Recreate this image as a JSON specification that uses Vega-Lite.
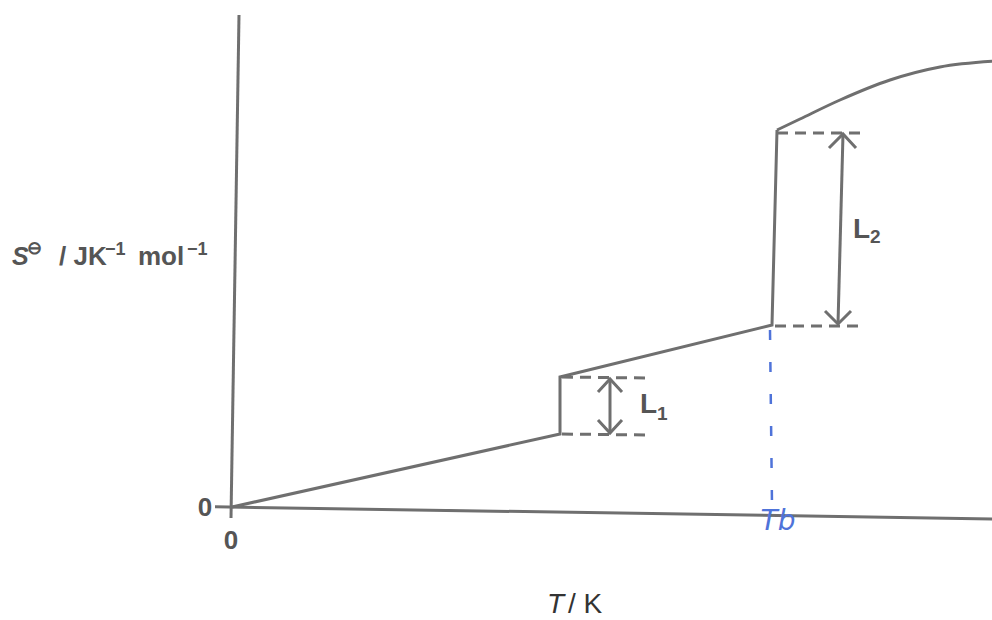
{
  "$schema": "https://vega.github.io/schema/vega-lite/v6.json",
  "width": 992,
  "height": 620,
  "padding": 0,
  "autosize": {"type": "none"},
  "background": "white",
  "config": {"view": {"stroke": null}},
  "datasets": {
    "solid": [
      {"id": "yaxis", "i": 0, "T": 7, "S": 492},
      {"id": "yaxis", "i": 1, "T": -1, "S": -11},
      {"id": "xaxis", "i": 0, "T": -17, "S": 0.2},
      {"id": "xaxis", "i": 1, "T": 765, "S": -12},
      {"id": "main", "i": 0, "T": 0, "S": 0},
      {"id": "main", "i": 1, "T": 328, "S": 73},
      {"id": "main", "i": 2, "T": 328, "S": 130},
      {"id": "main", "i": 3, "T": 540, "S": 182},
      {"id": "main", "i": 4, "T": 545, "S": 377},
      {"id": "l1shaft", "i": 0, "T": 378, "S": 128},
      {"id": "l1shaft", "i": 1, "T": 378, "S": 74},
      {"id": "l1top", "i": 0, "T": 366, "S": 115},
      {"id": "l1top", "i": 1, "T": 378, "S": 128},
      {"id": "l1top", "i": 2, "T": 390, "S": 115},
      {"id": "l1bot", "i": 0, "T": 366, "S": 87},
      {"id": "l1bot", "i": 1, "T": 378, "S": 74},
      {"id": "l1bot", "i": 2, "T": 390, "S": 87},
      {"id": "l2shaft", "i": 0, "T": 611, "S": 373},
      {"id": "l2shaft", "i": 1, "T": 606, "S": 183},
      {"id": "l2top", "i": 0, "T": 597, "S": 359},
      {"id": "l2top", "i": 1, "T": 611, "S": 373},
      {"id": "l2top", "i": 2, "T": 624, "S": 359},
      {"id": "l2bot", "i": 0, "T": 593, "S": 196},
      {"id": "l2bot", "i": 1, "T": 606, "S": 183},
      {"id": "l2bot", "i": 2, "T": 619, "S": 196}
    ],
    "curve": [
      {"T": 545, "S": 377},
      {"T": 568, "S": 388},
      {"T": 608, "S": 407},
      {"T": 658, "S": 427},
      {"T": 708, "S": 440},
      {"T": 765, "S": 446}
    ],
    "dashed": [
      {"id": "d1", "i": 0, "T": 330, "S": 130},
      {"id": "d1", "i": 1, "T": 413, "S": 129},
      {"id": "d2", "i": 0, "T": 330, "S": 73},
      {"id": "d2", "i": 1, "T": 413, "S": 72},
      {"id": "d3", "i": 0, "T": 545, "S": 374},
      {"id": "d3", "i": 1, "T": 631, "S": 374},
      {"id": "d4", "i": 0, "T": 543, "S": 181},
      {"id": "d4", "i": 1, "T": 626, "S": 181}
    ],
    "blue": [
      {"i": 0, "T": 538, "S": 177},
      {"i": 1, "T": 540, "S": 2}
    ]
  },
  "encoding": {
    "x": {"field": "T", "type": "quantitative", "scale": {"domain": [-232, 760], "nice": false, "zero": false}, "axis": null},
    "y": {"field": "S", "type": "quantitative", "scale": {"domain": [-113, 507], "nice": false, "zero": false}, "axis": null}
  },
  "layer": [
    {
      "data": {"name": "solid"},
      "mark": {"type": "line", "color": "#6f6f6f", "strokeWidth": 3},
      "encoding": {"detail": {"field": "id"}, "order": {"field": "i"}}
    },
    {
      "data": {"name": "curve"},
      "mark": {"type": "line", "color": "#6f6f6f", "strokeWidth": 3, "interpolate": "monotone"},
      "encoding": {}
    },
    {
      "data": {"name": "dashed"},
      "mark": {"type": "line", "color": "#6f6f6f", "strokeWidth": 3, "strokeDash": [11, 7]},
      "encoding": {"detail": {"field": "id"}, "order": {"field": "i"}}
    },
    {
      "data": {"name": "blue"},
      "mark": {"type": "line", "color": "#4f73d9", "strokeWidth": 2.5, "strokeDash": [10, 22]},
      "encoding": {"order": {"field": "i"}}
    },
    {
      "data": {"values": [{"T": 546, "S": -15, "label": "Tb"}]},
      "mark": {"type": "text", "align": "center", "baseline": "middle", "font": "DejaVu Sans", "fontSize": 28, "fontStyle": "italic", "color": "#4f73d9"},
      "encoding": {"text": {"field": "label"}}
    },
    {
      "data": {"values": [{"T": -27, "S": -1, "label": "0"}, {"T": -1, "S": -34, "label": "0"}]},
      "mark": {"type": "text", "align": "center", "baseline": "middle", "font": "Liberation Sans", "fontSize": 26, "fontWeight": "bold", "color": "#555555"},
      "encoding": {"text": {"field": "label"}}
    },
    {
      "data": {"values": [{"T": 408, "S": 94, "label": "L"}, {"T": 621, "S": 269, "label": "L"}]},
      "mark": {"type": "text", "align": "left", "baseline": "alphabetic", "font": "Liberation Sans", "fontSize": 28, "fontWeight": "bold", "color": "#555555"},
      "encoding": {"text": {"field": "label"}}
    },
    {
      "data": {"values": [{"T": 425, "S": 87, "label": "1"}, {"T": 638, "S": 264, "label": "2"}]},
      "mark": {"type": "text", "align": "left", "baseline": "alphabetic", "font": "Liberation Sans", "fontSize": 19, "fontWeight": "bold", "color": "#555555"},
      "encoding": {"text": {"field": "label"}}
    },
    {
      "data": {"values": [{"T": -220, "S": 242, "label": "S"}]},
      "mark": {"type": "text", "align": "left", "baseline": "alphabetic", "font": "Liberation Sans", "fontSize": 25, "fontWeight": "bold", "fontStyle": "italic", "color": "#555555"},
      "encoding": {"text": {"field": "label"}}
    },
    {
      "data": {"values": [{"T": -173, "S": 242, "label": "/ JK"}, {"T": -94, "S": 242, "label": "mol"}]},
      "mark": {"type": "text", "align": "left", "baseline": "alphabetic", "font": "Liberation Sans", "fontSize": 26, "fontWeight": "bold", "color": "#555555"},
      "encoding": {"text": {"field": "label"}}
    },
    {
      "data": {"values": [{"T": -205, "S": 253, "label": "⊖"}, {"T": -127, "S": 252, "label": "−1"}, {"T": -45, "S": 252, "label": "−1"}]},
      "mark": {"type": "text", "align": "left", "baseline": "alphabetic", "font": "Liberation Sans", "fontSize": 18, "fontWeight": "bold", "color": "#555555"},
      "encoding": {"text": {"field": "label"}}
    },
    {
      "data": {"values": [{"T": 315, "S": -112, "label": "T"}]},
      "mark": {"type": "text", "align": "left", "baseline": "bottom", "font": "Liberation Sans", "fontSize": 28, "fontStyle": "italic", "color": "#333333"},
      "encoding": {"text": {"field": "label"}}
    },
    {
      "data": {"values": [{"T": 336, "S": -112, "label": "/ K"}]},
      "mark": {"type": "text", "align": "left", "baseline": "bottom", "font": "Liberation Sans", "fontSize": 28, "color": "#333333"},
      "encoding": {"text": {"field": "label"}}
    }
  ]
}
